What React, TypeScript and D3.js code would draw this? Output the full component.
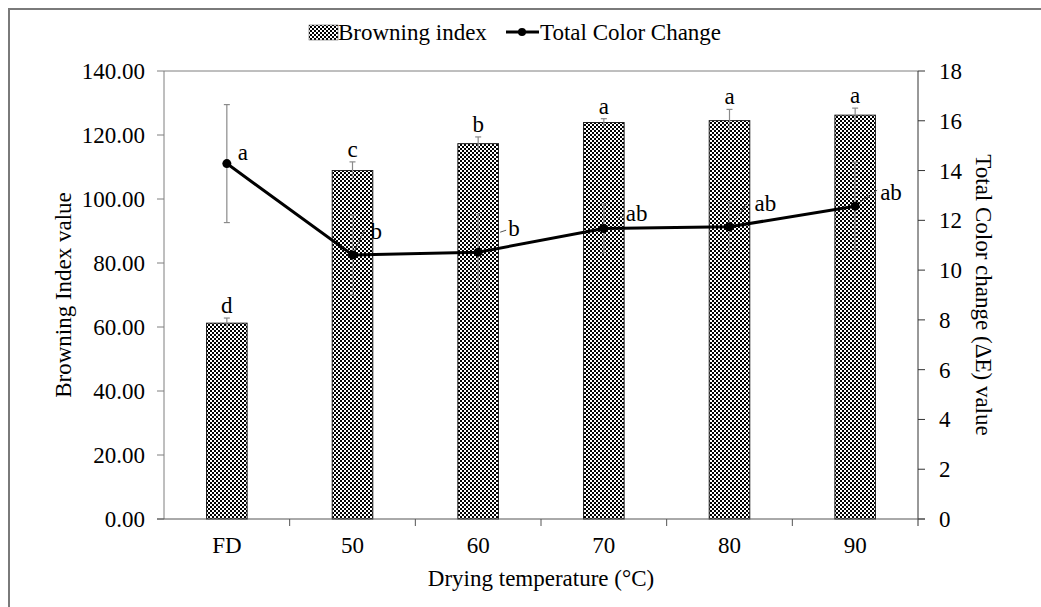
import * as d3 from 'd3'

// Drying treatments
const categories = ['FD', '50', '60', '70', '80', '90']

// Browning index (left axis)
const browning = [61.2, 108.9, 117.3, 123.9, 124.5, 126.2]
const browningErr = [1.6, 2.7, 2.1, 1.2, 3.5, 2.2]
const browningLetters = ['d', 'c', 'b', 'a', 'a', 'a']

// Total colour change ΔE (right axis)
const deltaE = [14.28, 10.61, 10.72, 11.67, 11.74, 12.57]
const deltaEErr = [2.37, 1.6, 1.55, 1.0, 1.0, 1.77]
const deltaELetters = ['a', 'b', 'b', 'ab', 'ab', 'ab']

const leftTicks = [0, 20, 40, 60, 80, 100, 120, 140]
const rightTicks = [0, 2, 4, 6, 8, 10, 12, 14, 16, 18]

// where the ΔE letters sit relative to their point: [dx, dy, leader x1, y1, x2, y2]
const letterOffsets = [
  [11, -4, 0, 0, 0, 0],
  [18, -16, 2, -4, 13, -27],
  [30, -16, 22, -20, 28, -22],
  [22, -8, 14, -10, 20, -13],
  [25, -16, 5, -6, 18, -24],
  [25, -6, 5, -4, 22, -16],
]

const FONT = '"Liberation Serif", "Times New Roman", serif'
const FS = 23

export default function App() {
  const W = 1041
  const H = 607
  const left = 164
  const right = 918
  const top = 71
  const bottom = 519

  const x = d3.scaleBand<string>().domain(categories).range([left, right]).padding(0)
  const yL = d3.scaleLinear().domain([0, 140]).range([bottom, top])
  const yR = d3.scaleLinear().domain([0, 18]).range([bottom, top])
  const barW = x.bandwidth() * 0.323
  const cx = (c: string) => (x(c) as number) + x.bandwidth() / 2

  const line = d3.line<number>()
    .x((_, i) => cx(categories[i]))
    .y(d => yR(d))

  return (
    <svg width={W} height={H} style={{ position: 'absolute', left: 0, top: 0, background: '#fff' }} fontFamily={FONT}>
      <defs>
        <pattern id="checks" width={4} height={4} patternUnits="userSpaceOnUse">
          <rect width={4} height={4} fill="#fff" />
          <rect width={2} height={2} fill="#000" />
          <rect x={2} y={2} width={2} height={2} fill="#000" />
        </pattern>
      </defs>

      {/* outer frame, cropped on the right and bottom */}
      <rect x={9} y={9} width={1100} height={700} fill="none" stroke="#7a7a7a" strokeWidth={2} />

      {/* legend */}
      <g>
        <rect x={309} y={25} width={29} height={15} fill="url(#checks)" stroke="#444" strokeWidth={0.5} />
        <text x={338} y={40} fontSize={FS}>Browning index</text>
        <line x1={506} x2={539} y1={32} y2={32} stroke="#000" strokeWidth={3} />
        <circle cx={522} cy={32} r={4} fill="#000" />
        <text x={540} y={40} fontSize={FS}>Total Color Change</text>
      </g>

      {/* top border of plot area */}
      <line x1={left} x2={right} y1={top} y2={top} stroke="#7f7f7f" />

      {/* bars */}
      {categories.map((c, i) => (
        <g key={c}>
          <rect
            x={cx(c) - barW / 2}
            y={yL(browning[i])}
            width={barW}
            height={bottom - yL(browning[i])}
            fill="url(#checks)"
            stroke="#222"
            strokeWidth={1}
          />
          <line x1={cx(c)} x2={cx(c)} y1={yL(browning[i] + browningErr[i])} y2={yL(browning[i] - browningErr[i])} stroke="#8a8a8a" strokeWidth={1.2} />
          <line x1={cx(c) - 3} x2={cx(c) + 3} y1={yL(browning[i] + browningErr[i])} y2={yL(browning[i] + browningErr[i])} stroke="#8a8a8a" strokeWidth={1.2} />
          <text x={cx(c)} y={yL(browning[i] + browningErr[i]) - 5} textAnchor="middle" fontSize={FS}>{browningLetters[i]}</text>
        </g>
      ))}

      {/* ΔE error bars */}
      {categories.map((c, i) => (
        <g key={'e' + c} stroke="#8a8a8a" strokeWidth={1.2}>
          <line x1={cx(c)} x2={cx(c)} y1={yR(deltaE[i] + deltaEErr[i])} y2={yR(deltaE[i] - deltaEErr[i])} />
          <line x1={cx(c) - 3} x2={cx(c) + 3} y1={yR(deltaE[i] + deltaEErr[i])} y2={yR(deltaE[i] + deltaEErr[i])} />
          <line x1={cx(c) - 3} x2={cx(c) + 3} y1={yR(deltaE[i] - deltaEErr[i])} y2={yR(deltaE[i] - deltaEErr[i])} />
        </g>
      ))}

      {/* ΔE line */}
      <path d={line(deltaE) ?? ''} fill="none" stroke="#000" strokeWidth={3} />
      {categories.map((c, i) => {
        const px = cx(c)
        const py = yR(deltaE[i])
        const o = letterOffsets[i]
        return (
          <g key={'p' + c}>
            <circle cx={px} cy={py} r={4.5} fill="#000" />
            {(o[2] !== 0 || o[4] !== 0) && (
              <line x1={px + o[2]} y1={py + o[3]} x2={px + o[4]} y2={py + o[5]} stroke="#555" strokeWidth={1} />
            )}
            <text x={px + o[0]} y={py + o[1]} fontSize={FS}>{deltaELetters[i]}</text>
          </g>
        )
      })}

      {/* left axis */}
      <line x1={left} x2={left} y1={top} y2={bottom} stroke="#7f7f7f" />
      {leftTicks.map(t => (
        <g key={'l' + t}>
          <line x1={left - 7} x2={left} y1={yL(t)} y2={yL(t)} stroke="#7f7f7f" />
          <text x={left - 19} y={yL(t) + 8} textAnchor="end" fontSize={FS}>{d3.format('.2f')(t)}</text>
        </g>
      ))}

      {/* right axis */}
      <line x1={right} x2={right} y1={top} y2={bottom + 7} stroke="#333" />
      {rightTicks.map(t => (
        <g key={'r' + t}>
          <line x1={right} x2={right + 7} y1={yR(t)} y2={yR(t)} stroke="#333" />
          <text x={right + 21} y={yR(t) + 8} fontSize={FS}>{t}</text>
        </g>
      ))}

      {/* x axis */}
      <line x1={left - 7} x2={right + 7} y1={bottom} y2={bottom} stroke="#555" />
      {categories.slice(1).map(c => (
        <line key={'t' + c} x1={x(c) as number} x2={x(c) as number} y1={bottom} y2={bottom + 7} stroke="#555" />
      ))}
      {categories.map(c => (
        <text key={'x' + c} x={cx(c)} y={bottom + 34} textAnchor="middle" fontSize={FS}>{c}</text>
      ))}

      {/* axis titles */}
      <text x={(left + right) / 2} y={586} textAnchor="middle" fontSize={FS}>Drying temperature (°C)</text>
      <text transform={`translate(71,${(top + bottom) / 2}) rotate(-90)`} textAnchor="middle" fontSize={FS}>Browning Index value</text>
      <text transform={`translate(976,${(top + bottom) / 2}) rotate(90)`} textAnchor="middle" fontSize={FS}>Total Color change (ΔE) value</text>
    </svg>
  )
}
